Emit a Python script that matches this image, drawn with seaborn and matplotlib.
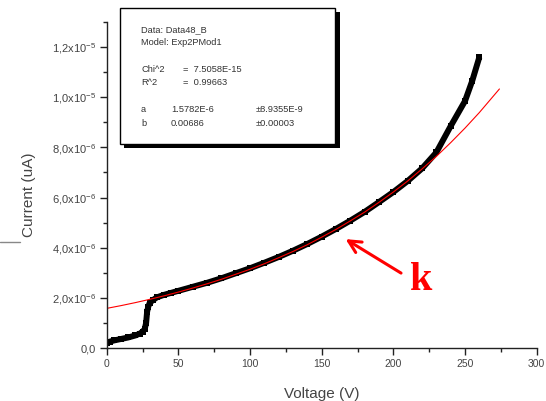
import matplotlib
matplotlib.use("Agg")
import matplotlib.pyplot as plt
import seaborn as sns
from matplotlib.ticker import MultipleLocator, FixedLocator, FixedFormatter
from matplotlib.patches import Rectangle
from matplotlib.lines import Line2D

# measured I-V data (black squares)
volt_data = [0, 2, 5, 10, 15, 20, 23, 25, 26.5, 27.5, 28.2, 29, 30, 32, 35, 40, 45, 50,
             60, 70, 80, 90, 100, 110, 120, 130, 140, 150, 160, 170, 180, 190, 200,
             210, 220, 230, 240, 250, 255, 260]
curr_data = [0.20, 0.25, 0.30, 0.36, 0.42, 0.50, 0.57, 0.65, 0.75, 1.00, 1.45, 1.65, 1.80,
             1.90, 2.02, 2.12, 2.20, 2.28, 2.44, 2.60, 2.78, 2.98, 3.18, 3.40, 3.63, 3.88,
             4.15, 4.44, 4.75, 5.08, 5.43, 5.82, 6.22, 6.66, 7.16, 7.80, 8.85, 9.85,
             10.65, 11.60]

# exponential fit (red line)
volt_fit = [0, 10, 20, 30, 40, 50, 60, 70, 80, 90, 100, 110, 120, 130, 140, 150, 160,
            170, 180, 190, 200, 210, 220, 230, 240, 250, 260, 274]
curr_fit = [1.58, 1.69, 1.81, 1.94, 2.08, 2.23, 2.39, 2.56, 2.74, 2.94, 3.14, 3.36, 3.60,
            3.85, 4.12, 4.42, 4.73, 5.07, 5.42, 5.81, 6.22, 6.66, 7.14, 7.64, 8.19, 8.77,
            9.39, 10.33]

y_ticks = [0, 2e-6, 4e-6, 6e-6, 8e-6, 1e-5, 1.2e-5]
y_labels = ["0,0", "2,0x10$^{-6}$", "4,0x10$^{-6}$", "6,0x10$^{-6}$", "8,0x10$^{-6}$",
            "1,0x10$^{-5}$", "1,2x10$^{-5}$"]
x_ticks = [0, 50, 100, 150, 200, 250, 300]

fit_text = [
    ("Data: Data48_B", "", ""),
    ("Model: Exp2PMod1", "", ""),
    ("", "", ""),
    ("Chi^2", "=  7.5058E-15", ""),
    ("R^2", "=  0.99663", ""),
    ("", "", ""),
    ("a", "1.5782E-6", "\u00b18.9355E-9"),
    ("b", "0.00686", "\u00b10.00003"),
]

sns.set_style("ticks")
plt.rcParams["font.family"] = ["Liberation Sans", "DejaVu Sans"]
plt.rcParams["mathtext.default"] = "regular"

fig = plt.figure(figsize=(5.46, 4.01), dpi=100)
ax = fig.add_axes([106.7 / 546, 53 / 401, 430 / 546, 326 / 401])

sns.lineplot(x=volt_data, y=[c * 1e-6 for c in curr_data], ax=ax,
             color="black", linewidth=4.3, marker="s", markersize=4.6,
             markeredgewidth=0, sort=True, solid_capstyle="butt")
sns.lineplot(x=volt_fit, y=[c * 1e-6 for c in curr_fit], ax=ax,
             color="red", linewidth=0.8)

ax.set_xlim(0, 300)
ax.set_ylim(0, 1.3e-5)
sns.despine(ax=ax)
for s in ["left", "bottom"]:
    ax.spines[s].set_linewidth(1.0)
    ax.spines[s].set_color("#222222")

ax.xaxis.set_major_locator(FixedLocator(x_ticks))
ax.xaxis.set_minor_locator(MultipleLocator(25))
ax.yaxis.set_major_locator(FixedLocator(y_ticks))
ax.yaxis.set_major_formatter(FixedFormatter(y_labels))
ax.yaxis.set_minor_locator(MultipleLocator(1e-6))
ax.tick_params(which="major", length=5, width=1, direction="out",
               labelsize=7.5, labelcolor="#444444", color="#222222", pad=3)
ax.tick_params(axis="y", labelsize=8)
ax.tick_params(which="minor", length=3, width=1, direction="out", color="#222222")

ax.set_xlabel("Voltage (V)", fontsize=11, color="#444444")
ax.set_ylabel("Current (uA)", fontsize=11, color="#444444")
ax.xaxis.set_label_coords(0.5, -0.12)
ax.yaxis.set_label_coords(-0.165, 0.47)

# fit parameter box with shadow (figure pixel coords)
def fx(px):
    return px / 546

def fy(py):
    return 1 - py / 401

fig.add_artist(Rectangle((fx(124), fy(148)), fx(340) - fx(124), fy(12) - fy(148),
                         transform=fig.transFigure, facecolor="black", edgecolor="none"))
fig.add_artist(Rectangle((fx(120), fy(144)), fx(335) - fx(120), fy(8) - fy(144),
                         transform=fig.transFigure, facecolor="white",
                         edgecolor="black", linewidth=1.0))
row_y = [29.3, 42.7, 56, 70, 82.7, 96, 110, 124]
for (c1, c2, c3), py in zip(fit_text, row_y):
    fig.text(fx(141), fy(py), c1, fontsize=6.7, color="#333333", va="center")
    fig.text(fx(183 if c2.startswith("=") else 171), fy(py), c2, fontsize=6.7,
             color="#333333", va="center")
    fig.text(fx(256), fy(py), c3, fontsize=6.7, color="#333333", va="center")

# stray grey line at left edge
fig.add_artist(Line2D([0, fx(20)], [fy(242), fy(242)], transform=fig.transFigure,
                      color="#888888", linewidth=1.0))

# red arrow and label
ax.annotate("", xy=(165, 4.4e-6), xytext=(207, 2.93e-6),
            arrowprops=dict(arrowstyle="->", color="red", lw=2.2, mutation_scale=22))
fig.text(fx(421), fy(281), "k", fontsize=29, fontweight="bold", color="red",
         family="Liberation Serif", ha="center", va="center")

fig.savefig("out.png", dpi=100)
